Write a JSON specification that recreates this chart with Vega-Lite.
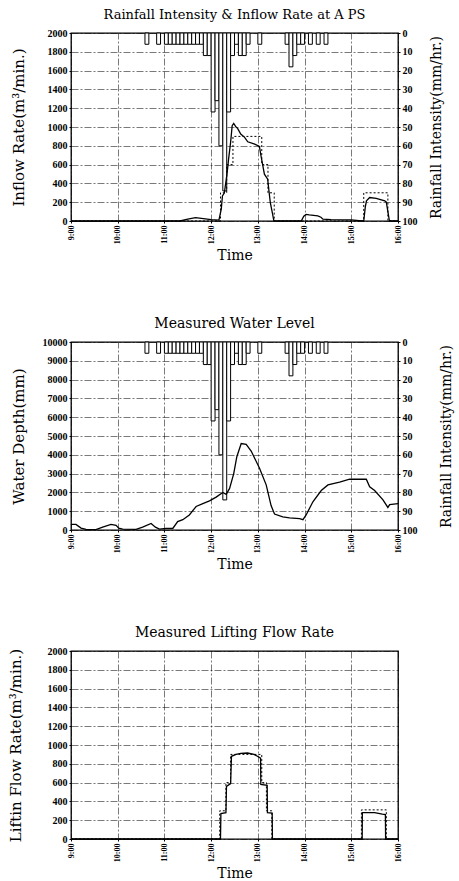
{
  "$schema": "https://vega.github.io/schema/vega-lite/v6.json",
  "background": "white",
  "padding": {"left": 7, "top": 8, "right": 5, "bottom": 0},
  "spacing": 52,
  "datasets": {
    "rain": [
      {"t0": 95, "t1": 100, "rain": 6},
      {"t0": 110, "t1": 115, "rain": 6},
      {"t0": 120, "t1": 125, "rain": 6},
      {"t0": 125, "t1": 130, "rain": 6},
      {"t0": 130, "t1": 135, "rain": 6},
      {"t0": 135, "t1": 140, "rain": 6},
      {"t0": 140, "t1": 145, "rain": 6},
      {"t0": 145, "t1": 150, "rain": 6},
      {"t0": 150, "t1": 155, "rain": 6},
      {"t0": 155, "t1": 160, "rain": 6},
      {"t0": 160, "t1": 165, "rain": 6},
      {"t0": 165, "t1": 170, "rain": 6},
      {"t0": 170, "t1": 175, "rain": 12},
      {"t0": 175, "t1": 180, "rain": 12},
      {"t0": 180, "t1": 185, "rain": 42},
      {"t0": 185, "t1": 190, "rain": 36},
      {"t0": 190, "t1": 195, "rain": 60},
      {"t0": 195, "t1": 200, "rain": 84},
      {"t0": 200, "t1": 205, "rain": 42},
      {"t0": 205, "t1": 210, "rain": 12},
      {"t0": 210, "t1": 215, "rain": 6},
      {"t0": 215, "t1": 220, "rain": 12},
      {"t0": 220, "t1": 225, "rain": 12},
      {"t0": 225, "t1": 230, "rain": 6},
      {"t0": 240, "t1": 245, "rain": 6},
      {"t0": 275, "t1": 280, "rain": 6},
      {"t0": 280, "t1": 285, "rain": 18},
      {"t0": 285, "t1": 290, "rain": 12},
      {"t0": 290, "t1": 295, "rain": 6},
      {"t0": 295, "t1": 300, "rain": 6},
      {"t0": 305, "t1": 310, "rain": 6},
      {"t0": 315, "t1": 320, "rain": 6},
      {"t0": 325, "t1": 330, "rain": 6}
    ],
    "inflow": [
      {"t": 0, "q": 0}, {"t": 140, "q": 0}, {"t": 150, "q": 20}, {"t": 160, "q": 35},
      {"t": 170, "q": 25}, {"t": 180, "q": 15}, {"t": 190, "q": 10}, {"t": 193, "q": 125},
      {"t": 194.5, "q": 267}, {"t": 197, "q": 300}, {"t": 200.6, "q": 516}, {"t": 202.4, "q": 658},
      {"t": 205, "q": 837}, {"t": 207, "q": 1014}, {"t": 209, "q": 1039}, {"t": 212, "q": 1000},
      {"t": 214, "q": 986}, {"t": 218, "q": 925}, {"t": 223, "q": 890}, {"t": 227, "q": 843},
      {"t": 236, "q": 818}, {"t": 242, "q": 794}, {"t": 244, "q": 694}, {"t": 248.4, "q": 498},
      {"t": 252.6, "q": 445}, {"t": 254, "q": 338}, {"t": 256, "q": 196}, {"t": 259, "q": 71},
      {"t": 260.6, "q": 0}, {"t": 295.7, "q": 0}, {"t": 299, "q": 50}, {"t": 302, "q": 70},
      {"t": 306, "q": 65}, {"t": 317, "q": 55}, {"t": 321, "q": 40}, {"t": 323.6, "q": 20},
      {"t": 334, "q": 15}, {"t": 360, "q": 12}, {"t": 370, "q": 5}, {"t": 376, "q": 0},
      {"t": 378, "q": 150}, {"t": 379.5, "q": 215}, {"t": 383.6, "q": 250}, {"t": 392, "q": 240},
      {"t": 403, "q": 215}, {"t": 405, "q": 200}, {"t": 407, "q": 100}, {"t": 409, "q": 0},
      {"t": 420, "q": 0}
    ],
    "pump1": [
      {"t": 0, "q": 0}, {"t": 192, "q": 300}, {"t": 200, "q": 600}, {"t": 208, "q": 900},
      {"t": 245, "q": 600}, {"t": 253, "q": 300}, {"t": 261, "q": 0}, {"t": 376, "q": 300},
      {"t": 407, "q": 0}, {"t": 420, "q": 0}
    ],
    "depth": [
      {"t": 0, "d": 250}, {"t": 1.3, "d": 300}, {"t": 6.4, "d": 300}, {"t": 12.9, "d": 100},
      {"t": 19.3, "d": 30}, {"t": 32, "d": 20}, {"t": 40.7, "d": 150}, {"t": 51.4, "d": 300},
      {"t": 57.9, "d": 250}, {"t": 61.3, "d": 100}, {"t": 66.4, "d": 50}, {"t": 83.6, "d": 30},
      {"t": 92, "d": 150}, {"t": 102.9, "d": 350}, {"t": 108.4, "d": 150}, {"t": 113.6, "d": 50},
      {"t": 122, "d": 80}, {"t": 130.7, "d": 80}, {"t": 137, "d": 450}, {"t": 143.6, "d": 550},
      {"t": 152, "d": 800}, {"t": 160.7, "d": 1250}, {"t": 169.3, "d": 1400}, {"t": 177.9, "d": 1550},
      {"t": 186.4, "d": 1750}, {"t": 195, "d": 2000}, {"t": 199.3, "d": 1900}, {"t": 203.6, "d": 2200},
      {"t": 209, "d": 3000}, {"t": 213, "d": 3900}, {"t": 218.6, "d": 4600}, {"t": 225, "d": 4550},
      {"t": 231.4, "d": 4200}, {"t": 242, "d": 3300}, {"t": 250.7, "d": 2400}, {"t": 257, "d": 1300},
      {"t": 261.4, "d": 850}, {"t": 272, "d": 700}, {"t": 280.7, "d": 650}, {"t": 293.6, "d": 600},
      {"t": 297.9, "d": 550}, {"t": 302, "d": 800}, {"t": 310.7, "d": 1500}, {"t": 321.4, "d": 2100},
      {"t": 330, "d": 2400}, {"t": 345, "d": 2550}, {"t": 357.9, "d": 2700}, {"t": 379.3, "d": 2700},
      {"t": 383.6, "d": 2300}, {"t": 390, "d": 2100}, {"t": 400.7, "d": 1600}, {"t": 407, "d": 1200},
      {"t": 409.3, "d": 1350}, {"t": 420, "d": 1400}
    ],
    "lift": [
      {"t": 0, "q": 0}, {"t": 192, "q": 0}, {"t": 192.5, "q": 270}, {"t": 199, "q": 280},
      {"t": 199.7, "q": 560}, {"t": 205, "q": 590}, {"t": 206.1, "q": 880}, {"t": 212, "q": 900},
      {"t": 218, "q": 910}, {"t": 226.7, "q": 915}, {"t": 235, "q": 900}, {"t": 239.5, "q": 880},
      {"t": 243.5, "q": 860}, {"t": 243.8, "q": 580}, {"t": 252, "q": 570}, {"t": 252.3, "q": 280},
      {"t": 258.4, "q": 275}, {"t": 258.7, "q": 0}, {"t": 374, "q": 0}, {"t": 374.2, "q": 280},
      {"t": 390, "q": 280}, {"t": 399.9, "q": 265}, {"t": 403.8, "q": 260}, {"t": 404.1, "q": 0},
      {"t": 420, "q": 0}
    ],
    "pump3": [
      {"t": 0, "q": 0}, {"t": 191, "q": 300}, {"t": 199, "q": 600}, {"t": 205, "q": 900},
      {"t": 245, "q": 600}, {"t": 251, "q": 300}, {"t": 258, "q": 0}, {"t": 373, "q": 310},
      {"t": 405, "q": 0}, {"t": 420, "q": 0}
    ]
  },
  "config": {
    "font": "DejaVu Serif",
    "view": {"stroke": "black", "strokeWidth": 1.3},
    "axis": {
      "labelFont": "Liberation Serif", "labelFontWeight": "bold", "labelFontSize": 10,
      "labelColor": "black", "labelPadding": 2, "format": "d", "labelOverlap": false,
      "titleFont": "DejaVu Serif", "titleFontSize": 15, "titleFontWeight": "normal", "titleColor": "black",
      "domain": false, "ticks": true, "tickColor": "black", "tickSize": 2,
      "gridColor": "black", "gridOpacity": 0.75, "gridDash": [7, 2, 2, 2], "gridWidth": 0.7
    },
    "axisX": {"labelFontSize": 8, "titleFontSize": 14, "labelAngle": -90, "titlePadding": 5},
    "title": {"font": "DejaVu Serif", "fontSize": 14, "fontWeight": "normal", "color": "black", "anchor": "middle", "offset": 6}
  },
  "vconcat": [
    {
      "title": {"text": "Rainfall Intensity & Inflow Rate at A PS", "fontSize": 13},
      "width": 327, "height": 188,
      "layer": [
        {
          "data": {"name": "rain"},
          "mark": {"type": "bar", "fill": "white", "stroke": "black", "strokeWidth": 1},
          "encoding": {
            "x": {"field": "t0", "type": "quantitative", "scale": {"domain": [0, 420], "nice": false},
                  "axis": {"title": "Time", "values": [0, 60, 120, 180, 240, 300, 360, 420],
                           "labelExpr": "(9 + datum.value/60) + ':00'", "grid": true}},
            "x2": {"field": "t1"},
            "y": {"field": "rain", "type": "quantitative", "scale": {"domain": [0, 100], "reverse": true, "nice": false},
                  "axis": {"orient": "right", "title": "Rainfall Intensity(mm/hr.)", "titleFontSize": 14,
                           "titleAngle": 270, "titleBaseline": "top", "titlePadding": 12,
                           "values": [0, 10, 20, 30, 40, 50, 60, 70, 80, 90, 100], "grid": false}},
            "y2": {"datum": 0}
          }
        },
        {
          "layer": [
            {
              "data": {"name": "pump1"},
              "mark": {"type": "line", "interpolate": "step-after", "color": "black", "strokeWidth": 1, "strokeDash": [2, 2]},
              "encoding": {
                "x": {"field": "t", "type": "quantitative"},
                "y": {"field": "q", "type": "quantitative", "scale": {"domain": [0, 2000], "nice": false},
                      "axis": {"orient": "left", "title": "Inflow Rate(m³/min.)", "titlePadding": 21,
                               "values": [0, 200, 400, 600, 800, 1000, 1200, 1400, 1600, 1800, 2000], "grid": true}}
              }
            },
            {
              "data": {"name": "inflow"},
              "mark": {"type": "line", "color": "black", "strokeWidth": 1.3},
              "encoding": {
                "x": {"field": "t", "type": "quantitative"},
                "y": {"field": "q", "type": "quantitative", "scale": {"domain": [0, 2000], "nice": false},
                      "axis": {"orient": "left", "title": "Inflow Rate(m³/min.)", "titlePadding": 21,
                               "values": [0, 200, 400, 600, 800, 1000, 1200, 1400, 1600, 1800, 2000], "grid": true}}
              }
            }
          ]
        }
      ],
      "resolve": {"scale": {"y": "independent"}}
    },
    {
      "title": {"text": "Measured Water Level"},
      "width": 327, "height": 188,
      "layer": [
        {
          "data": {"name": "rain"},
          "mark": {"type": "bar", "fill": "white", "stroke": "black", "strokeWidth": 1},
          "encoding": {
            "x": {"field": "t0", "type": "quantitative", "scale": {"domain": [0, 420], "nice": false},
                  "axis": {"title": "Time", "values": [0, 60, 120, 180, 240, 300, 360, 420],
                           "labelExpr": "(9 + datum.value/60) + ':00'", "grid": true}},
            "x2": {"field": "t1"},
            "y": {"field": "rain", "type": "quantitative", "scale": {"domain": [0, 100], "reverse": true, "nice": false},
                  "axis": {"orient": "right", "title": "Rainfall Intensity(mm/hr.)", "titleFontSize": 14,
                           "titleAngle": 270, "titleBaseline": "top", "titlePadding": 22,
                           "values": [0, 10, 20, 30, 40, 50, 60, 70, 80, 90, 100], "grid": false}},
            "y2": {"datum": 0}
          }
        },
        {
          "data": {"name": "depth"},
          "mark": {"type": "line", "color": "black", "strokeWidth": 1.3},
          "encoding": {
            "x": {"field": "t", "type": "quantitative"},
            "y": {"field": "d", "type": "quantitative", "scale": {"domain": [0, 10000], "nice": false},
                  "axis": {"orient": "left", "title": "Water Depth(mm)", "titlePadding": 16,
                           "values": [0, 1000, 2000, 3000, 4000, 5000, 6000, 7000, 8000, 9000, 10000], "grid": true}}
          }
        }
      ],
      "resolve": {"scale": {"y": "independent"}}
    },
    {
      "title": {"text": "Measured Lifting Flow Rate"},
      "width": 327, "height": 188,
      "layer": [
        {
          "data": {"name": "pump3"},
          "mark": {"type": "line", "interpolate": "step-after", "color": "black", "strokeWidth": 1, "strokeDash": [2, 2]},
          "encoding": {
            "x": {"field": "t", "type": "quantitative", "scale": {"domain": [0, 420], "nice": false},
                  "axis": {"title": "Time", "values": [0, 60, 120, 180, 240, 300, 360, 420],
                           "labelExpr": "(9 + datum.value/60) + ':00'", "grid": true}},
            "y": {"field": "q", "type": "quantitative", "scale": {"domain": [0, 2000], "nice": false},
                  "axis": {"orient": "left", "title": "Liftin Flow Rate(m³/min.)", "titlePadding": 24,
                           "values": [0, 200, 400, 600, 800, 1000, 1200, 1400, 1600, 1800, 2000], "grid": true}}
          }
        },
        {
          "data": {"name": "lift"},
          "mark": {"type": "line", "color": "black", "strokeWidth": 1.3},
          "encoding": {
            "x": {"field": "t", "type": "quantitative", "scale": {"domain": [0, 420], "nice": false},
                  "axis": {"title": "Time", "values": [0, 60, 120, 180, 240, 300, 360, 420],
                           "labelExpr": "(9 + datum.value/60) + ':00'", "grid": true}},
            "y": {"field": "q", "type": "quantitative", "scale": {"domain": [0, 2000], "nice": false},
                  "axis": {"orient": "left", "title": "Liftin Flow Rate(m³/min.)", "titlePadding": 24,
                           "values": [0, 200, 400, 600, 800, 1000, 1200, 1400, 1600, 1800, 2000], "grid": true}}
          }
        }
      ]
    }
  ]
}
